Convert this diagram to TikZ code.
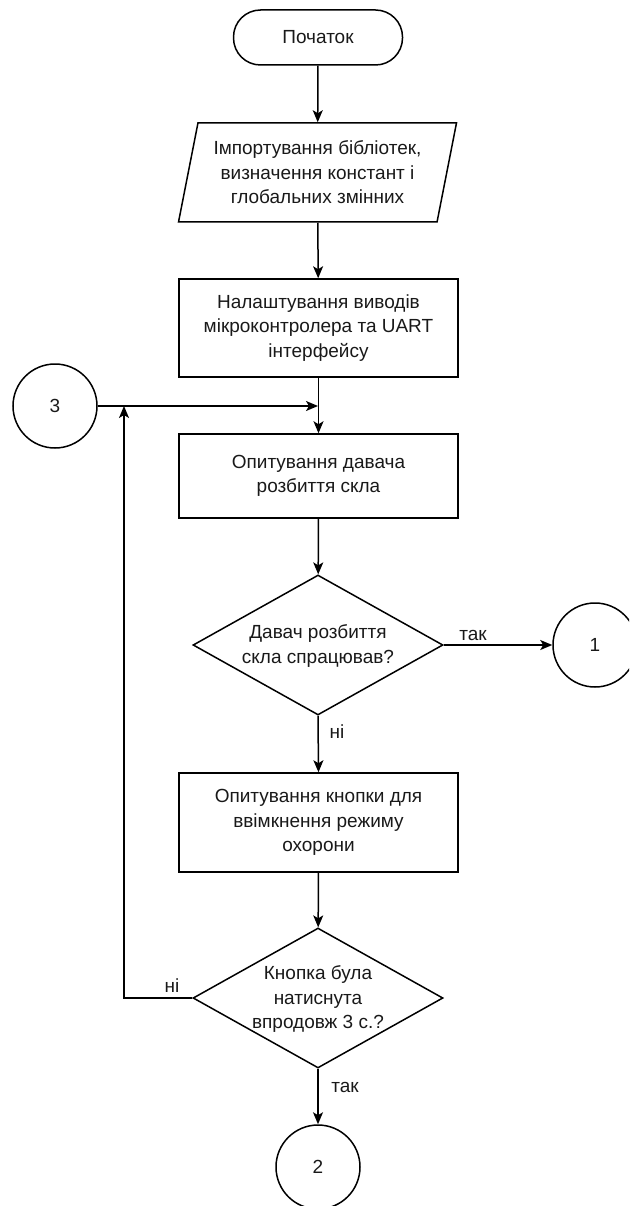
\documentclass[tikz,border=0pt]{standalone}
\usepackage{fontspec}
\setmainfont{Liberation Sans}
\usetikzlibrary{shapes.geometric,arrows.meta}
\begin{document}
\begin{tikzpicture}[x=1pt,y=-1pt,
  every node/.style={font=\fontsize{19}{24.5}\selectfont, text=black!90, align=center},
  base/.style={draw=black, line width=1.5pt, inner sep=0pt},
  term/.style={base, rectangle, rounded corners=27pt, minimum width=169pt, minimum height=55pt},
  proc/.style={base, rectangle, minimum width=279pt},
  ioshape/.style={base, trapezium, trapezium left angle=75, trapezium right angle=105, trapezium stretches=true, minimum width=279pt, minimum height=99pt},
  dec/.style={base, diamond, minimum width=250pt, minimum height=140pt},
  conn/.style={base, circle, minimum size=84pt},
  line/.style={line width=1.5pt, draw=black},
  arr/.style={line, -{Stealth[length=12pt,width=10pt,inset=3pt]}},
  lbl/.style={inner sep=0pt}
]
\useasboundingbox (0,0) rectangle (629,1206);
\clip (0,0) rectangle (629,1206);

\node[term] (start) at (318,37.5) {Початок};
\node[ioshape] (io) at (317.5,172.5) {Імпортування бібліотек,\\визначення констант і\\глобальних змінних};
\node[proc, minimum height=98pt] (p1) at (318.5,328) {Налаштування виводів\\мікроконтролера та UART\\інтерфейсу};
\node[proc, minimum height=84pt] (p2) at (318.5,476) {Опитування давача\\розбиття скла};
\node[dec] (d1) at (318,645) {};
\node[lbl] (d1t) at (318,646) {Давач розбиття\\скла спрацював?};
\node[proc, minimum height=99pt] (p3) at (318.5,822.5) {Опитування кнопки для\\ввімкнення режиму\\охорони};
\node[dec] (d2) at (318,998) {};
\node[lbl] (d2t) at (318,999) {Кнопка була\\натиснута\\впродовж 3 с.?};
\node[conn] (c1) at (595,645) {1};
\node[conn] (c2) at (318,1167) {2};
\node[conn] (c3) at (55,406) {3};

\coordinate (j1) at (318,406);
\coordinate (lp) at (124,406);

\draw[arr] (start) -- (io);
\draw[arr] (io) -- (p1);
\draw[arr] (p1) -- (p2);
\draw[arr] (c3) -- (j1);
\draw[arr] (p2) -- (d1);
\draw[arr] (d1.east) -- (c1.west);
\draw[arr] (d1.south) -- (p3.north);
\draw[arr] (p3) -- (d2);
\draw[arr] (d2.west) -- (d2.west -| lp) -- (lp);
\draw[arr] (d2.south) -- (c2.north);

\node[lbl, anchor=base] (y1) at (473,640) {так};
\node[lbl, anchor=base] (n1) at (337,738) {ні};
\node[lbl, anchor=base] (n2) at (172,992) {ні};
\node[lbl, anchor=base] (y2) at (345,1092) {так};
\end{tikzpicture}
\end{document}
